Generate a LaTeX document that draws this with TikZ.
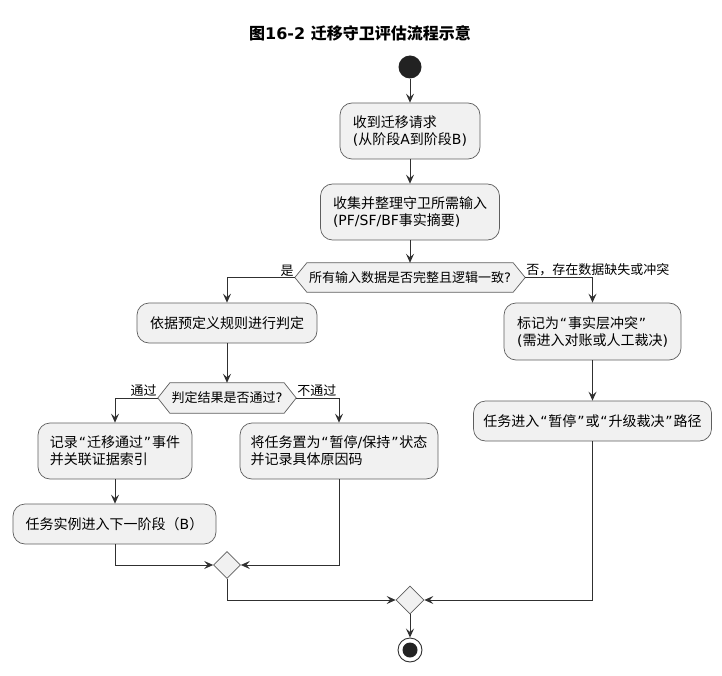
\documentclass[tikz,border=0pt]{standalone}
\usepackage{fontspec}
\setmainfont{Noto Sans CJK SC}
\newfontfamily\dvf{DejaVu Sans}
\newcommand\dv[1]{{\dvf #1}}
\newcommand\oq{\hspace{0.9pt}{\dvf “}\hspace{0.9pt}}
\newcommand\cq{\hspace{0.9pt}{\dvf ”}\hspace{0.9pt}}
\usetikzlibrary{arrows.meta,backgrounds,shapes.geometric}
\definecolor{boxfill}{HTML}{F1F1F1}
\definecolor{boxline}{HTML}{5E5E5E}
\definecolor{arrowc}{HTML}{303030}
\definecolor{dotc}{HTML}{222222}
\begin{document}
\begin{tikzpicture}[x=1pt,y=-1pt,
  actbox/.style={draw=boxline, fill=boxfill, line width=0.7pt, rounded corners=12pt,
    inner xsep=4pt, inner ysep=0pt, align=left, font=\fontsize{14}{17}\selectfont},
  hexnode/.style={inner sep=0pt, font=\fontsize{13}{16}\selectfont},
  hexdraw/.style={draw=boxline, fill=boxfill, line width=0.7pt},
  mergenode/.style={diamond, draw=boxline, fill=boxfill, line width=0.7pt, inner sep=0pt,
    minimum width=27pt, minimum height=27pt},
  lbl/.style={inner sep=1pt, font=\fontsize{13}{16}\selectfont},
  flow/.style={draw=arrowc, line width=0.9pt, -{Stealth[length=9pt,width=8pt,inset=3.5pt]}}]
\useasboundingbox (0,0) rectangle (722,676);

\node[font=\bfseries\fontsize{16}{19}\selectfont] (title) at (360,33) {图\dv{\bfseries 16-2 }迁移守卫评估流程示意};

\node[circle, fill=dotc, minimum size=23pt, inner sep=0pt] (start) at (410,67) {};

\node[actbox, minimum width=140pt, minimum height=56pt] (b1) at (410,131) {收到迁移请求\\\dv{(}从阶段\dv{A}到阶段\dv{B)}};
\node[actbox, minimum width=179pt, minimum height=56pt] (b2) at (410,212) {收集并整理守卫所需输入\\\dv{(PF/SF/BF}事实摘要\dv{)}};

\node[hexnode, minimum width=230pt, minimum height=29pt] (d1) at (410,277.5) {所有输入数据是否完整且逻辑一致\dv{?}};
\begin{scope}[on background layer]
\draw[hexdraw] (d1.west) -- ([xshift=12pt]d1.north west) -- ([xshift=-12pt]d1.north east) -- (d1.east)
  -- ([xshift=-12pt]d1.south east) -- ([xshift=12pt]d1.south west) -- cycle;
\end{scope}

\node[actbox, minimum width=180pt, minimum height=40pt] (b3) at (227,323) {依据预定义规则进行判定};
\node[actbox, minimum width=177pt, minimum height=57pt] (b4) at (592.5,331.5) {标记为\oq 事实层冲突\cq\\\dv{(}需进入对账或人工裁决\dv{)}};
\node[actbox, minimum width=238pt, minimum height=40pt] (b5) at (592.5,421) {任务进入\oq 暂停\cq 或\oq 升级裁决\cq 路径};

\node[hexnode, minimum width=138pt, minimum height=30pt] (d2) at (227,398) {判定结果是否通过\dv{?}};
\begin{scope}[on background layer]
\draw[hexdraw] (d2.west) -- ([xshift=12pt]d2.north west) -- ([xshift=-12pt]d2.north east) -- (d2.east)
  -- ([xshift=-12pt]d2.south east) -- ([xshift=12pt]d2.south west) -- cycle;
\end{scope}

\node[actbox, minimum width=154pt, minimum height=56pt] (b6) at (115,451) {记录\oq 迁移通过\cq 事件\\并关联证据索引};
\node[actbox, minimum width=198pt, minimum height=56pt] (b7) at (339,451) {将任务置为\oq 暂停\dv{/}保持\cq 状态\\并记录具体原因码};
\node[actbox, minimum width=203pt, minimum height=40pt] (b8) at (114.5,524) {任务实例进入下一阶段（\dv{B}）};

\node[mergenode] (m1) at (227,565) {};
\node[mergenode, minimum width=28pt, minimum height=28pt] (m2) at (410,600) {};

\node[circle, draw=arrowc, fill=white, line width=0.9pt, minimum size=24pt, inner sep=0pt,
  path picture={\fill[dotc] (path picture bounding box.center) circle (7.5pt);}] (end) at (410,650) {};

% labels
\node[lbl, anchor=south east] (lyes) at (d1.west) {是};
\node[lbl, anchor=south west] (lno) at (d1.east) {否，存在数据缺失或冲突};
\node[lbl, anchor=south east] (lpass) at (d2.west) {通过};
\node[lbl, anchor=south west] (lfail) at (d2.east) {不通过};

% connectors
\draw[flow] (start) -- (b1);
\draw[flow] (b1) -- (b2);
\draw[flow] (b2) -- (d1);
\draw[flow] (d1.west) -| (b3.north);
\draw[flow] (d1.east) -| (b4.north);
\draw[flow] (b4) -- (b5);
\draw[flow] (b5.south) |- (m2.east);
\draw[flow] (b3) -- (d2);
\draw[flow] (d2.west) -| (b6.north);
\draw[flow] (d2.east) -| (b7.north);
\draw[flow] (b6.south) -- (b6.south |- b8.north);
\draw[flow] (b8.south -| b6.south) |- (m1.west);
\draw[flow] (b7.south) |- (m1.east);
\draw[flow] (m1.south) |- (m2.west);
\draw[flow] (m2) -- (end);
\end{tikzpicture}
\end{document}
